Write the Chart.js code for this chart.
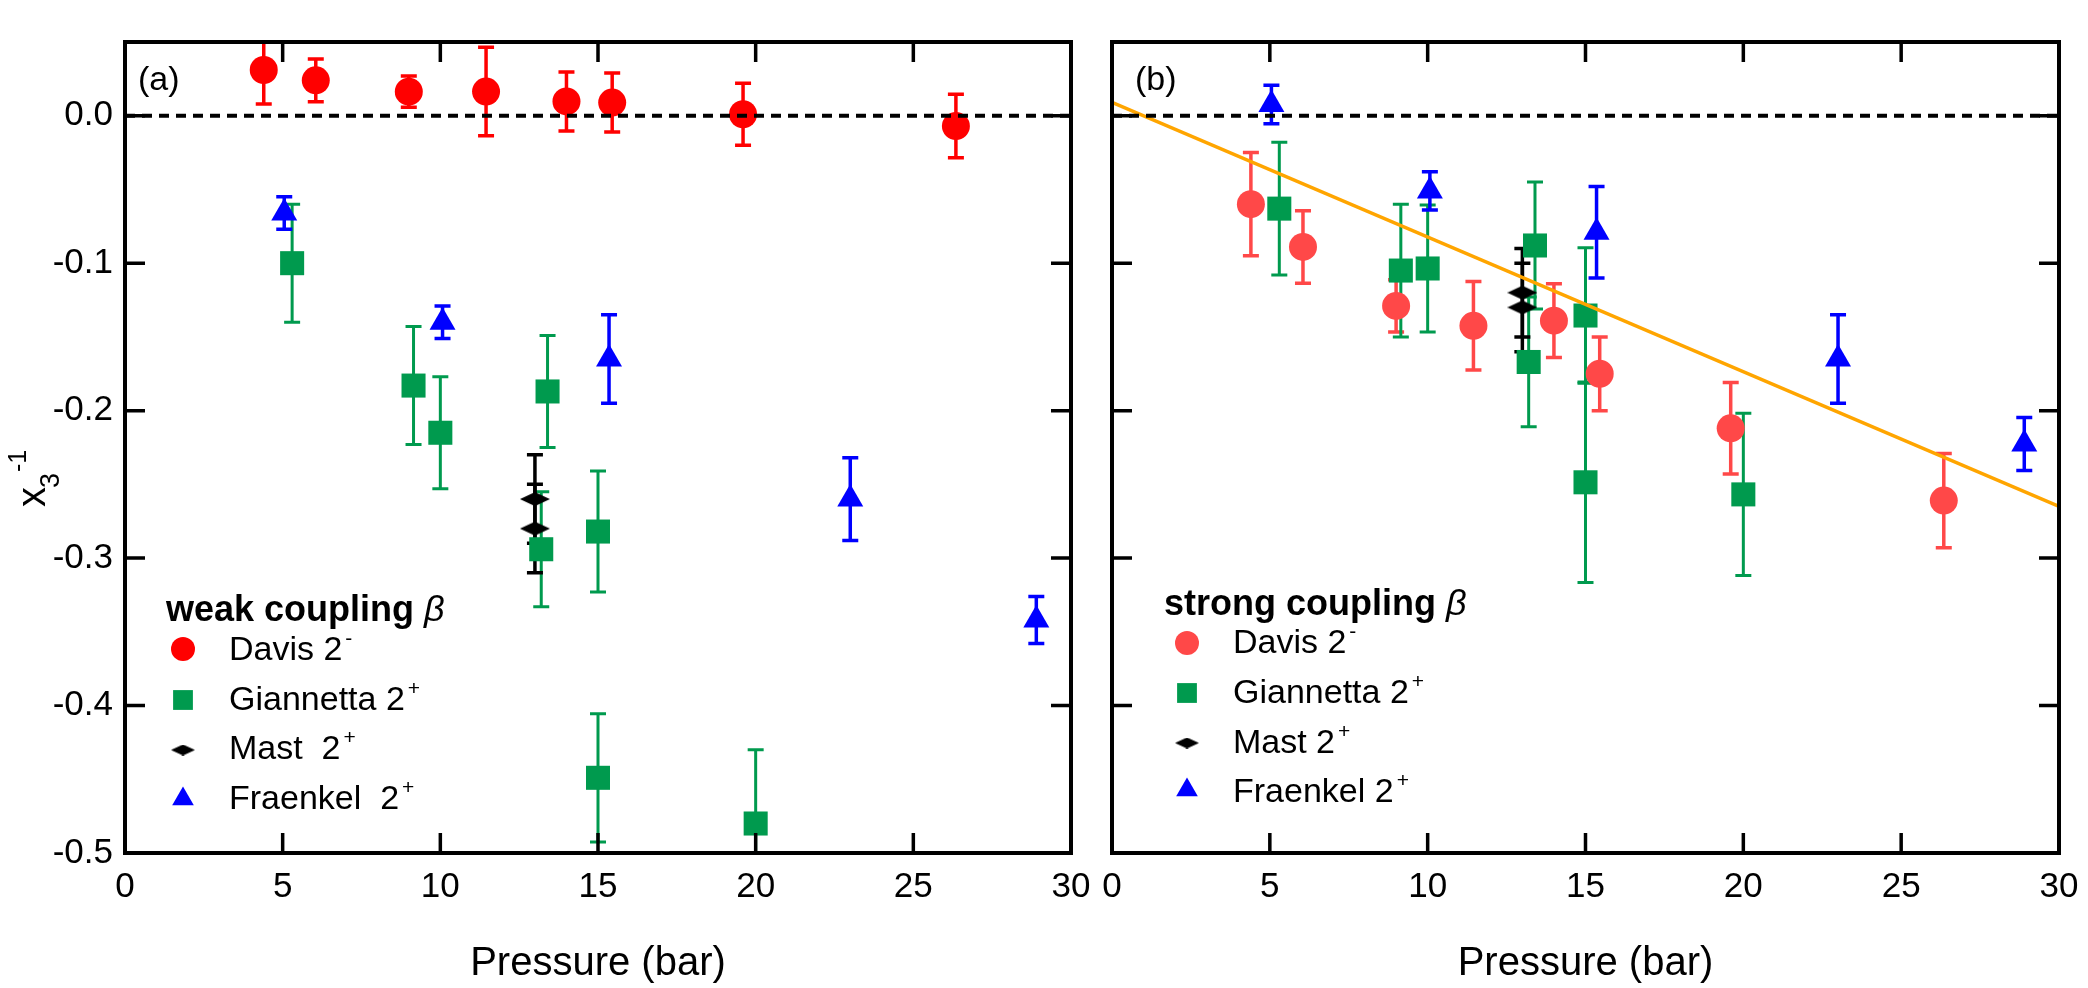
<!DOCTYPE html>
<html>
<head>
<meta charset="utf-8">
<script src="https://cdn.jsdelivr.net/npm/chart.js@4.4.1/dist/chart.umd.min.js"></script>
<style>
  body { margin: 0; background: #fff; width: 2088px; height: 988px; overflow: hidden; position: relative; }
  canvas { position: absolute; top: 0; }
  #grafA { left: 0; }
  #grafB { left: 1095px; }
</style>
</head>
<body>
<canvas id="grafA" width="1095" height="988"></canvas>
<canvas id="grafB" width="993" height="988"></canvas>
<script>
// eixos
const xTicks = [0, 5, 10, 15, 20, 25, 30];
const yTicks = [0.0, -0.1, -0.2, -0.3, -0.4, -0.5];

// pressoes (bar)
const davisP = [4.4, 6.05, 9.0, 11.45, 14.0, 15.45, 19.6, 26.35];
const giannettaP = [5.3, 9.15, 10.0, 13.4, 13.2, 15.0, 15.0, 20.0];
const mastP = [13.0, 13.0];
const fraenkelP = [5.05, 10.07, 15.35, 23.0, 28.9];

// (a) weak coupling
const davisFraco = [0.031, 0.024, 0.0163, 0.0164, 0.0097, 0.0089, 0.001, -0.007];
const davisFracoErr = [0.023, 0.0145, 0.0106, 0.030, 0.020, 0.020, 0.021, 0.0215];
const giannettaFraco = [-0.100, -0.183, -0.215, -0.187, -0.294, -0.282, -0.449, -0.480];
const giannettaFracoErr = [0.040, 0.040, 0.038, 0.038, 0.039, 0.041, 0.0435, 0.050];
const mastFraco = [-0.26, -0.28];
const mastFracoErr = [0.03, 0.03];
const fraenkelFraco = [-0.066, -0.140, -0.165, -0.260, -0.342];
const fraenkelFracoErr = [0.011, 0.011, 0.030, 0.028, 0.016];

// (b) strong coupling
const davisForte = [-0.060, -0.089, -0.129, -0.1425, -0.139, -0.175, -0.212, -0.261];
const davisForteErr = [0.035, 0.0246, 0.0177, 0.030, 0.025, 0.025, 0.031, 0.032];
const giannettaForte = [-0.063, -0.105, -0.1036, -0.088, -0.167, -0.1355, -0.2486, -0.2568];
const giannettaForteErr = [0.045, 0.045, 0.043, 0.043, 0.044, 0.046, 0.068, 0.055];
const mastForte = [-0.12, -0.13];
const mastForteErr = [0.03, 0.03];
const fraenkelForte = [0.0076, -0.051, -0.079, -0.165, -0.2226];
const fraenkelForteErr = [0.013, 0.013, 0.031, 0.030, 0.018];

// ajuste linear e linha do zero
const ajusteP = [0, 30];
const ajusteY = [0.009, -0.265];
const zeroP = [0, 30];
const zeroY = [0, 0];

const FONTE = "'Liberation Sans', Arial, Helvetica, sans-serif";
Chart.defaults.font.family = FONTE;
Chart.defaults.color = '#000';

const pontos = (xs, ys) => xs.map((x, i) => ({x: x, y: ys[i]}));

losango = (w, h) => {
    const c = document.createElement('canvas');
    c.width = w; c.height = h;
    const g = c.getContext('2d');
    g.fillStyle = '#000';
    g.beginPath();
    g.moveTo(w / 2, 0); g.lineTo(w, h / 2); g.lineTo(w / 2, h); g.lineTo(0, h / 2);
    g.closePath();
    g.fill();
    return c;
};
const losangoGrande = losango(30, 14);
const losangoLegenda = losango(24, 11);

const VERDE = '#009A4E';
const AZUL = '#0000FF';

// texto com expoente
textoSup = (ctx, texto, sup, x, y, tam) => {
    ctx.font = tam + 'px ' + FONTE;
    ctx.fillText(texto, x, y);
    const w = ctx.measureText(texto).width;
    ctx.font = Math.round(tam * 0.62) + 'px ' + FONTE;
    ctx.fillText(sup, x + w + 3, y - 15);
};

const moldura = {
    id: 'moldura',
    beforeDatasetsDraw(chart) {
        // barras de erro
        const {ctx, chartArea: a, scales: {x, y}} = chart;
        ctx.save();
        ctx.beginPath();
        ctx.rect(a.left, a.top, a.right - a.left, a.bottom - a.top);
        ctx.clip();
        chart.data.datasets.forEach(ds => {
            if (!ds.erros) return;
            ctx.strokeStyle = ds.backgroundColor;
            ctx.lineWidth = ds.espessuraErro;
            ds.data.forEach((p, j) => {
                const px = x.getPixelForValue(p.x);
                const y1 = y.getPixelForValue(p.y + ds.erros[j]);
                const y2 = y.getPixelForValue(p.y - ds.erros[j]);
                ctx.beginPath();
                ctx.moveTo(px, y1); ctx.lineTo(px, y2);
                ctx.moveTo(px - 8, y1); ctx.lineTo(px + 8, y1);
                ctx.moveTo(px - 8, y2); ctx.lineTo(px + 8, y2);
                ctx.stroke();
            });
        });
        ctx.restore();
    },
    afterDraw(chart) {
        const {ctx, chartArea: a, scales: {x, y}} = chart;
        const info = chart.config.options.plugins.moldura;
        ctx.save();
        ctx.strokeStyle = '#000';
        // ticks para dentro
        ctx.lineWidth = 3.5;
        ctx.beginPath();
        xTicks.forEach(v => {
            const px = x.getPixelForValue(v);
            ctx.moveTo(px, a.top); ctx.lineTo(px, a.top + 20);
            ctx.moveTo(px, a.bottom); ctx.lineTo(px, a.bottom - 20);
        });
        yTicks.forEach(v => {
            const py = y.getPixelForValue(v);
            ctx.moveTo(a.left, py); ctx.lineTo(a.left + 20, py);
            ctx.moveTo(a.right, py); ctx.lineTo(a.right - 20, py);
        });
        ctx.stroke();
        ctx.lineWidth = 4;
        ctx.strokeRect(a.left, a.top, a.right - a.left, a.bottom - a.top);

        ctx.fillStyle = '#000';
        ctx.textBaseline = 'alphabetic';
        ctx.textAlign = 'left';
        ctx.font = '34px ' + FONTE;
        ctx.fillText(info.painel, info.painelX, 90);

        // legenda
        const L = info.legenda;
        ctx.font = 'bold 36px ' + FONTE;
        ctx.fillText(L.titulo, L.x, L.y);
        const wt = ctx.measureText(L.titulo + ' ').width;
        ctx.font = 'italic 36px ' + FONTE;
        ctx.fillText('\u03B2', L.x + wt, L.y);

        chart.data.datasets.forEach(ds => {
            if (!ds.legenda) return;
            const e = ds.legenda;
            ctx.fillStyle = ds.backgroundColor;
            Chart.helpers.drawPoint(ctx, {
                pointStyle: e.estilo, radius: e.raio, rotation: 0, borderWidth: 0
            }, L.xMarca, e.yMarca);
            ctx.fillStyle = '#000';
            textoSup(ctx, e.texto, e.sup, L.xTexto, e.yTexto, 34);
        });

        if (info.tituloY) {
            // x_3^-1 rodado
            ctx.translate(45, 507);
            ctx.rotate(-Math.PI / 2);
            ctx.font = '40px ' + FONTE;
            ctx.fillText('x', 0, 0);
            ctx.font = '27px ' + FONTE;
            ctx.fillText('3', 19, 14);
            ctx.font = '25px ' + FONTE;
            ctx.fillText('-1', 35, -19);
        }
        ctx.restore();
    }
};

escalas = (mostrarY) => ({
    x: {
        type: 'linear',
        min: 0, max: 30,
        afterBuildTicks: s => { s.ticks = xTicks.map(v => ({value: v})); },
        afterFit: s => { s.height = 135; s.paddingLeft = 0; s.paddingRight = 0; },
        grid: {display: false, drawTicks: false},
        border: {display: false},
        ticks: {font: {size: 35}, padding: 13, maxRotation: 0, autoSkip: false},
        title: {display: true, text: 'Pressure (bar)', font: {size: 40}, padding: {top: 0, bottom: 0}}
    },
    y: {
        type: 'linear',
        display: mostrarY,
        min: -0.5, max: 0.05,
        afterBuildTicks: s => { s.ticks = yTicks.map(v => ({value: v})); },
        afterFit: s => { s.width = mostrarY ? 125 : 0; s.paddingTop = 0; s.paddingBottom = 0; },
        grid: {display: false, drawTicks: false},
        border: {display: false},
        ticks: {font: {size: 35}, padding: 12, callback: v => v.toFixed(1)}
    }
});

conjuntos = (vermelho, davis, davisErr, giann, giannErr, mast, mastErr, fraen, fraenErr, forte) => {
    const lista = [{
        data: pontos(zeroP, zeroY),
        showLine: true, borderColor: '#000', borderWidth: 4, borderDash: [10, 7],
        pointRadius: 0, fill: false
    }];
    if (forte) {
        lista.push({
            data: pontos(ajusteP, ajusteY),
            showLine: true, borderColor: '#FFA500', borderWidth: 3.5,
            pointRadius: 0, fill: false
        });
    }
    const L = forte
        ? {y: [653, 703, 753, 802], m: [643, 693, 743, 790], mast: 'Mast 2', fraen: 'Fraenkel 2'}
        : {y: [660, 710, 759, 809], m: [649, 700, 750, 799], mast: 'Mast  2', fraen: 'Fraenkel  2'};
    lista.push({
        data: pontos(davisP, davis), erros: davisErr, espessuraErro: 3.5,
        backgroundColor: vermelho, pointStyle: 'circle', pointRadius: 14, pointBorderWidth: 0,
        legenda: {texto: 'Davis 2', sup: '-', estilo: 'circle', raio: 12, yMarca: L.m[0], yTexto: L.y[0]}
    });
    lista.push({
        data: pontos(giannettaP, giann), erros: giannErr, espessuraErro: 3,
        backgroundColor: VERDE, pointStyle: 'rect', pointRadius: 17, pointBorderWidth: 0,
        legenda: {texto: 'Giannetta 2', sup: '+', estilo: 'rect', raio: 14, yMarca: L.m[1], yTexto: L.y[1]}
    });
    lista.push({
        data: pontos(mastP, mast), erros: mastErr, espessuraErro: 3.5,
        backgroundColor: '#000', pointStyle: losangoGrande, pointRadius: 14, pointBorderWidth: 0,
        legenda: {texto: L.mast, sup: '+', estilo: losangoLegenda, raio: 12, yMarca: L.m[2], yTexto: L.y[2]}
    });
    lista.push({
        data: pontos(fraenkelP, fraen), erros: fraenErr, espessuraErro: 3.5,
        backgroundColor: AZUL, pointStyle: 'triangle', pointRadius: 15, pointBorderWidth: 0,
        legenda: {texto: L.fraen, sup: '+', estilo: 'triangle', raio: 12.5, yMarca: L.m[3], yTexto: L.y[3]}
    });
    return lista;
};

const graficoA = new Chart(document.getElementById('grafA'), {
    type: 'scatter',
    data: {
        datasets: conjuntos('#FF0000', davisFraco, davisFracoErr, giannettaFraco, giannettaFracoErr,
            mastFraco, mastFracoErr, fraenkelFraco, fraenkelFracoErr, false)
    },
    options: {
        responsive: false,
        animation: false,
        events: [],
        devicePixelRatio: 1,
        layout: {padding: {left: 0, top: 42, right: 24, bottom: 0}},
        scales: escalas(true),
        plugins: {
            legend: {display: false},
            tooltip: {enabled: false},
            moldura: {
                painel: '(a)', painelX: 138, tituloY: true,
                legenda: {titulo: 'weak coupling', x: 166, y: 621, xMarca: 183, xTexto: 229}
            }
        }
    },
    plugins: [moldura]
});

const graficoB = new Chart(document.getElementById('grafB'), {
    type: 'scatter',
    data: {
        datasets: conjuntos('#FF4848', davisForte, davisForteErr, giannettaForte, giannettaForteErr,
            mastForte, mastForteErr, fraenkelForte, fraenkelForteErr, true)
    },
    options: {
        responsive: false,
        animation: false,
        events: [],
        devicePixelRatio: 1,
        layout: {padding: {left: 16, top: 42, right: 29, bottom: 0}},
        scales: escalas(false),
        plugins: {
            legend: {display: false},
            tooltip: {enabled: false},
            moldura: {
                painel: '(b)', painelX: 40, tituloY: false,
                legenda: {titulo: 'strong coupling', x: 69, y: 615, xMarca: 92, xTexto: 138}
            }
        }
    },
    plugins: [moldura]
});
</script>
</body>
</html>
